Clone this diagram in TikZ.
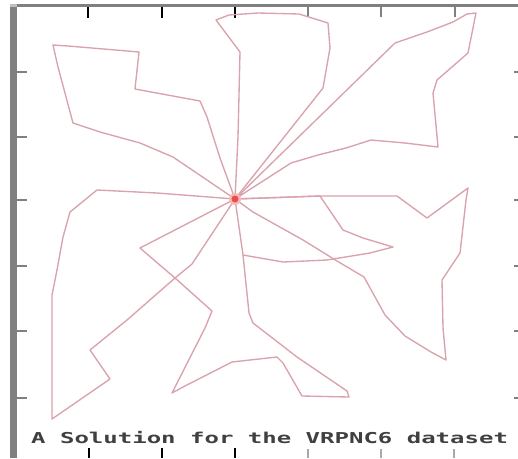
\documentclass[tikz,border=0pt]{standalone}
\usepackage{fontspec}
\usepackage{graphicx}
\newfontfamily\pixmono{DejaVu Sans Mono}
\definecolor{route}{RGB}{218,162,172}
\definecolor{depotred}{RGB}{234,78,78}
\definecolor{axisgray}{RGB}{128,128,128}
\definecolor{ticklight}{RGB}{170,170,170}
\tikzset{
  routeline/.style={draw=route, line width=1.35pt, line join=round, line cap=round},
  tickblack/.style={draw=black, line width=2.5pt},
  tickgray/.style={draw=axisgray, line width=2pt},
  ticklite/.style={draw=ticklight, line width=2pt},
}
\begin{document}
\begin{tikzpicture}[x=1pt,y=-1pt]
\fill[white] (0,0) rectangle (518,458);
\path[use as bounding box] (0,0) rectangle (518,458);
% frame
\fill[axisgray] (10,4) rectangle (17,458);
\fill[axisgray] (10,4) rectangle (518,7);
\fill[lightgray] (10,4) rectangle (17,7);
\foreach \x in {88,162,235} \draw[tickblack] (\x,7) -- (\x,18);
\foreach \x in {308,381,455} \draw[tickgray] (\x,7) -- (\x,17);
\foreach \y in {72,137,200,266,331,398} {
  \draw[tickgray] (17,\y) -- (27,\y);
  \draw[tickgray] (514,\y) -- (518,\y);
}
\foreach \x in {89,162,235} \draw[tickblack] (\x,448) -- (\x,458);
\foreach \x in {308,381,454} \draw[ticklite] (\x,449) -- (\x,458);
% depot
\coordinate (D) at (235,199);
% route 1 (top left)
\coordinate (a1) at (207,180); \coordinate (a2) at (173,157);
\coordinate (a3) at (140,143); \coordinate (a4) at (100,132);
\coordinate (a5) at (73,123);  \coordinate (a6) at (58,67);
\coordinate (a7) at (53,45);   \coordinate (a8) at (68,46);
\coordinate (a9) at (139,52);  \coordinate (a10) at (135,89);
\coordinate (a11) at (200,101);\coordinate (a12) at (207,117);
\coordinate (a13) at (220,158);
\draw[routeline] (D) -- (a1) -- (a2) -- (a3) -- (a4) -- (a5) -- (a6) -- (a7) -- (a8) -- (a9) -- (a10) -- (a11) -- (a12) -- (a13) -- (D);
% route 2 (top)
\coordinate (b1) at (238,137); \coordinate (b2) at (240,52);
\coordinate (b3) at (216,20);  \coordinate (b4) at (229,15);
\coordinate (b5) at (258,13);  \coordinate (b6) at (299,14);
\coordinate (b7) at (328,23);  \coordinate (b8) at (330,48);
\coordinate (b9) at (323,88);
\draw[routeline] (D) -- (b1) -- (b2) -- (b3) -- (b4) -- (b5) -- (b6) -- (b7) -- (b8) -- (b9) -- (D);
% route 3 (top right)
\coordinate (c1) at (291,163); \coordinate (c2) at (318,155);
\coordinate (c3) at (346,148); \coordinate (c4) at (371,140);
\coordinate (c5) at (405,143); \coordinate (c6) at (438,147);
\coordinate (c7) at (433,93);  \coordinate (c8) at (437,80);
\coordinate (c9) at (468,53);  \coordinate (c10) at (476,13);
\coordinate (c11) at (467,14); \coordinate (c12) at (453,22);
\coordinate (c13) at (427,32); \coordinate (c14) at (395,43);
\draw[routeline] (D) -- (c1) -- (c2) -- (c3) -- (c4) -- (c5) -- (c6) -- (c7) -- (c8) -- (c9) -- (c10) -- (c11) -- (c12) -- (c13) -- (c14) -- (D);
% route 4 (right loop)
\coordinate (d1) at (320,196); \coordinate (d2) at (397,196);
\coordinate (d3) at (427,218); \coordinate (d4) at (468,188);
\coordinate (d5) at (466,200); \coordinate (d6) at (460,253);
\coordinate (d7) at (442,280); \coordinate (d8) at (443,328);
\coordinate (d9) at (446,360); \coordinate (d10) at (431,352);
\coordinate (d11) at (405,336);\coordinate (d12) at (385,315);
\coordinate (d13) at (364,277);\coordinate (d14) at (337,261);
\coordinate (d15) at (303,240);\coordinate (d16) at (253,212);
\draw[routeline] (D) -- (d1) -- (d2) -- (d3) -- (d4) -- (d5) -- (d6) -- (d7) -- (d8) -- (d9) -- (d10) -- (d11) -- (d12) -- (d13) -- (d14) -- (d15) -- (d16) -- (D);
% route 5 (right middle)
\coordinate (e1) at (343,230); \coordinate (e2) at (363,238);
\coordinate (e3) at (393,247); \coordinate (e4) at (370,253);
\coordinate (e5) at (327,260); \coordinate (e6) at (283,262);
\coordinate (e7) at (243,255);
\draw[routeline] (D) -- (d1) -- (e1) -- (e2) -- (e3) -- (e4) -- (e5) -- (e6) -- (e7) -- (D);
% route 6 (bottom)
\coordinate (f1) at (140,248); \coordinate (f2) at (175,278);
\coordinate (f3) at (212,311); \coordinate (f4) at (205,328);
\coordinate (f5) at (172,393); \coordinate (f6) at (183,387);
\coordinate (f7) at (232,362); \coordinate (f8) at (277,357);
\coordinate (f9) at (283,363); \coordinate (f10) at (302,396);
\coordinate (f11) at (349,397);\coordinate (f12) at (347,391);
\coordinate (f13) at (297,357);\coordinate (f14) at (253,323);
\coordinate (f15) at (249,313);
\draw[routeline] (D) -- (f1) -- (f2) -- (f3) -- (f4) -- (f5) -- (f6) -- (f7) -- (f8) -- (f9) -- (f10) -- (f11) -- (f12) -- (f13) -- (f14) -- (f15) -- (e7);
% route 7 (left)
\coordinate (g1) at (192,264); \coordinate (g2) at (127,320);
\coordinate (g3) at (90,350);  \coordinate (g4) at (110,379);
\coordinate (g5) at (52,419);  \coordinate (g6) at (52,295);
\coordinate (g7) at (57,270);  \coordinate (g8) at (63,237);
\coordinate (g9) at (70,212);  \coordinate (g10) at (97,190);
\coordinate (g11) at (137,192);\coordinate (g12) at (157,193);
\draw[routeline] (D) -- (g1) -- (f2) -- (g2) -- (g3) -- (g4) -- (g5) -- (g6) -- (g7) -- (g8) -- (g9) -- (g10) -- (g11) -- (g12) -- (D);
% depot marker
\fill[depotred!40] (D) circle (6);
\fill[depotred] (D) circle (3.5);
% title
\node[anchor=base west, inner sep=0, text=black!75] (title) at (31,443)
  {\scalebox{1.6}[1]{\fontsize{15}{15}\pixmono\bfseries A Solution for the VRPNC6 dataset}};
\end{tikzpicture}
\end{document}
